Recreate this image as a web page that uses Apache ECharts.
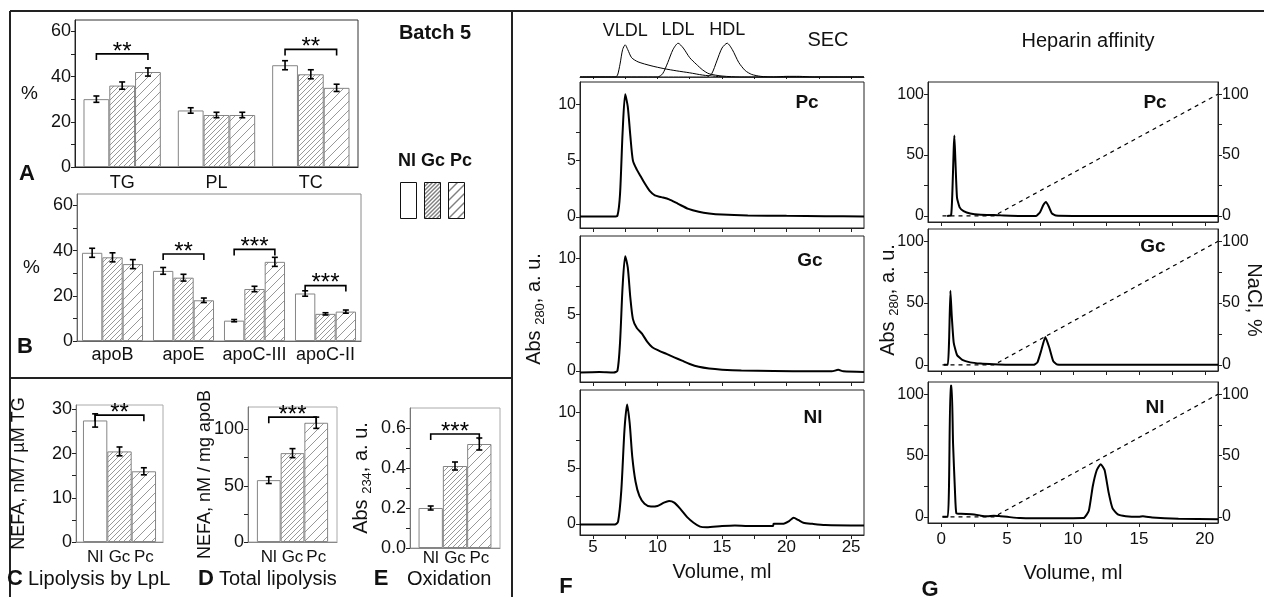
<!DOCTYPE html>
<html>
<head>
<meta charset="utf-8">
<title>Batch 5</title>
<script src="https://cdn.jsdelivr.net/npm/echarts@6/dist/echarts.min.js"></script>
<style>
html, body { margin: 0; padding: 0; background: #fff; }
#chart { width: 1264px; height: 597px; }
</style>
</head>
<body>
<div id="chart"></div>
<script>
// ---------- data ----------
const groups = ['Nl', 'Gc', 'Pc'];

// A: lipids, %
const catsA = ['TG', 'PL', 'TC'];
const nlA = [30, 25, 45];
const gcA = [36, 23, 41];
const pcA = [42, 23, 35];
const nlAErr = [1.4, 1.2, 2];
const gcAErr = [1.6, 1.2, 2];
const pcAErr = [1.8, 1.2, 1.6];
const sigA = [[0, 0, 2, 50, '**'], [2, 0, 2, 52, '**']];

// B: apolipoproteins, %
const catsB = ['apoB', 'apoE', 'apoC-III', 'apoC-II'];
const nlB = [39, 31, 9, 21];
const gcB = [37, 28, 23, 12];
const pcB = [34, 18, 35, 13];
const nlBErr = [2, 1.5, 0.5, 1.2];
const gcBErr = [2, 1.5, 1.2, 0.5];
const pcBErr = [2, 1, 2, 0.7];
const sigB = [[1, 0, 2, 38.5, '**'], [2, 0, 2, 40.5, '***'], [3, 0, 2, 24.5, '***']];

// C: lipolysis by LpL
const nlC = [27.5], gcC = [20.5], pcC = [16];
const nlCErr = [1.5], gcCErr = [1], pcCErr = [0.8];
const sigC = [[0, 0, 2, 28.7, '**']];

// D: total lipolysis
const nlD = [55], gcD = [79], pcD = [106];
const nlDErr = [3], gcDErr = [4], pcDErr = [5];
const sigD = [[0, 0, 2, 111, '***']];

// E: oxidation
const nlE = [0.20], gcE = [0.41], pcE = [0.52];
const nlEErr = [0.01], gcEErr = [0.02], pcEErr = [0.03];
const sigE = [[0, 0, 2, 0.57, '***']];

// tick labels
const ticksA = [0, 20, 40, 60];
const minorA = [0, 10, 20, 30, 40, 50, 60];
const ticksC = [0, 10, 20, 30];
const ticksD = [0, 50, 100];
const ticksE = [0, 0.2, 0.4, 0.6];
const ticksF = [0, 5, 10];
const minorF = [0, 2.5, 5, 7.5, 10];
const volTicksF = [5, 10, 15, 20, 25];
const volMinorF = [5, 7.5, 10, 12.5, 15, 17.5, 20, 22.5, 25];
const ticksG = [0, 50, 100];
const minorG = [0, 25, 50, 75, 100];
const volTicksG = [0, 5, 10, 15, 20];
const volMinorG = [0, 2.5, 5, 7.5, 10, 12.5, 15, 17.5, 20];

// F: SEC standards (inset), [ml, rel]
const stdVLDL = [[4, 0], [6.7, 0], [6.9, 0.05], [7.1, 0.4], [7.3, 0.85], [7.5, 1.0], [7.7, 0.85], [8.0, 0.6], [8.5, 0.47], [9.5, 0.35], [10.5, 0.26], [11.5, 0.19], [12.5, 0.13], [13.5, 0.06], [14.5, 0.02], [15.5, 0], [26, 0]];
const stdLDL = [[4, 0], [10.0, 0], [10.4, 0.1], [10.8, 0.45], [11.2, 0.85], [11.6, 1.05], [12.0, 0.9], [12.5, 0.6], [13.0, 0.4], [13.5, 0.22], [14.0, 0.1], [15.0, 0.03], [16.5, 0], [26, 0]];
const stdHDL = [[4, 0], [13.8, 0], [14.2, 0.1], [14.6, 0.5], [15.0, 0.9], [15.4, 1.05], [15.8, 0.85], [16.3, 0.45], [16.8, 0.2], [17.3, 0.08], [18, 0.02], [19, 0], [20, 0.02], [21, 0.02], [22, 0], [26, 0]];

// F: SEC traces, [ml, Abs280]
const secPc = [[4, 0.02], [6.6, 0.02], [6.9, 0.1], [7.1, 2], [7.3, 7.5], [7.5, 10.9], [7.7, 9.8], [7.9, 7.2], [8.1, 5.0], [8.4, 4.2], [8.7, 3.6], [9.0, 3.0], [9.4, 2.3], [9.8, 1.9], [10.3, 1.75], [10.9, 1.55], [11.6, 1.15], [12.4, 0.7], [13.2, 0.45], [14, 0.3], [15, 0.2], [17, 0.12], [20, 0.08], [23, 0.05], [26, 0.02]];
const secGc = [[4, -0.15], [5.5, -0.1], [6.6, -0.15], [6.9, 0], [7.1, 2.5], [7.3, 7.5], [7.5, 10.2], [7.7, 9.2], [7.9, 6.5], [8.1, 4.6], [8.4, 3.8], [8.8, 3.3], [9.2, 2.6], [9.6, 2.1], [10.1, 1.8], [10.7, 1.5], [11.3, 1.2], [11.9, 0.9], [12.5, 0.6], [13.2, 0.35], [14, 0.2], [15, 0.1], [16.5, 0.02], [19, -0.02], [22, -0.05], [23.5, -0.05], [24, 0.08], [24.4, -0.05], [26, -0.1]];
const secNl = [[4, -0.05], [6.7, -0.05], [6.95, 0.2], [7.2, 3], [7.45, 8.5], [7.65, 10.7], [7.85, 9], [8.05, 6], [8.3, 3.8], [8.6, 2.5], [9.0, 1.8], [9.5, 1.55], [10.0, 1.6], [10.5, 1.9], [10.9, 2.05], [11.3, 1.9], [11.8, 1.3], [12.3, 0.6], [12.8, 0.1], [13.3, -0.25], [13.8, -0.3], [15, -0.2], [16, -0.15], [17, -0.2], [18, -0.2], [18.95, -0.2], [19.0, 0], [19.7, 0], [20.2, 0.25], [20.55, 0.55], [20.9, 0.35], [21.3, 0.1], [22, 0], [23, -0.1], [26, -0.15]];

// G: heparin affinity traces, [ml, Abs280]
const hepPc = [[0.45, 0], [0.75, 0.5], [0.85, 20], [0.95, 55], [1.0, 66], [1.08, 45], [1.2, 15], [1.4, 7], [1.7, 4], [2.2, 2], [3, 1], [4, 0.7], [4.5, 0.5], [6, 0], [7.2, 0], [7.5, 3], [7.75, 9], [7.95, 11.5], [8.15, 8], [8.4, 2], [8.7, 0.3], [10, 0], [21, 0]];
const hepGc = [[0.2, 0], [0.5, 0], [0.6, 20], [0.7, 60], [0.8, 40], [0.95, 18], [1.2, 8], [1.6, 4], [2.2, 2], [3, 1], [4, 0.4], [5, 0], [7.0, 0], [7.3, 2], [7.6, 12], [7.9, 22.5], [8.2, 14], [8.5, 3], [8.8, 0.3], [10, 0], [21, 0]];
const hepNl = [[0.1, 0], [0.5, 0], [0.6, 30], [0.7, 107], [0.8, 107], [0.9, 60], [1.05, 20], [1.15, 3], [1.5, 2.5], [2.5, 2], [3, 1], [3.5, 0.5], [4, 1], [4.5, 0.5], [5, 0], [6, -1], [7, -1.2], [10.8, -1], [11.2, 5], [11.5, 25], [11.8, 38], [12.1, 43], [12.4, 38], [12.7, 20], [13.0, 7], [13.4, 2], [14, 0.5], [15, 0], [15.3, 0.5], [16, -0.5], [18, -1.5], [21, -2]];
// NaCl gradient, %
const nacl = [[0.1, 0], [4, 0], [21, 100]];

// ---------- styles ----------
const ff = 'Liberation Sans, Arial, sans-serif';
const ink = '#111';

function hatch(step, color, width) {
  const c = document.createElement('canvas');
  c.width = step;
  c.height = step;
  const ctx = c.getContext('2d');
  ctx.fillStyle = '#fff';
  ctx.fillRect(0, 0, step, step);
  ctx.strokeStyle = color;
  ctx.lineWidth = width;
  ctx.beginPath();
  ctx.moveTo(-1, step + 1); ctx.lineTo(step + 1, -1);
  ctx.moveTo(-1, 1); ctx.lineTo(1, -1);
  ctx.moveTo(step - 1, step + 1); ctx.lineTo(step + 1, step - 1);
  ctx.stroke();
  return { image: c, repeat: 'repeat' };
}
const fills = ['#ffffff', hatch(5, '#8c8c8c', 0.9), hatch(9, '#8c8c8c', 0.9)];
const legendFills = ['#ffffff', hatch(4, '#000', 1), hatch(9, '#000', 1)];

const grids = [
  { left: 75, top: 20, width: 283, height: 147, borderColor: '#333' },   // A
  { left: 77, top: 194, width: 284, height: 147, borderColor: '#8a8a8a' }, // B
  { left: 76, top: 405, width: 87, height: 137, borderColor: '#aaa' },   // C
  { left: 248, top: 407, width: 89, height: 135, borderColor: '#aaa' },  // D
  { left: 410, top: 408, width: 90, height: 140, borderColor: '#aaa' },  // E
  { left: 580, top: 40, width: 284, height: 37, show: false },           // F standards
  { left: 580, top: 82, width: 284, height: 146, borderColor: '#222' },  // F Pc
  { left: 580, top: 236, width: 284, height: 146, borderColor: '#222' }, // F Gc
  { left: 580, top: 390, width: 284, height: 145, borderColor: '#222' }, // F Nl
  { left: 928, top: 82, width: 290, height: 140, borderColor: '#222' },  // G Pc
  { left: 928, top: 229, width: 290, height: 142, borderColor: '#222' }, // G Gc
  { left: 928, top: 382, width: 290, height: 141, borderColor: '#222' }  // G Nl
].map(g => Object.assign({ show: g.show !== false, borderWidth: 1, containLabel: false, outerBoundsMode: 'none' }, g));

function valueAxis(grid, min, max, labels, ticks, o) {
  o = o || {};
  return {
    type: 'value', gridIndex: grid, min: min, max: max,
    position: o.position,
    show: o.show !== false,
    name: o.name, nameLocation: 'middle', nameGap: o.nameGap, nameRotate: o.nameRotate,
    nameMoveOverlap: false,
    nameTextStyle: Object.assign({ color: ink, fontSize: 20, fontFamily: ff }, o.nameTextStyle || {}),
    axisLine: { show: true, onZero: false, lineStyle: { color: o.lineColor || '#222', width: 1 } },
    axisTick: { show: true, customValues: ticks, length: o.tickLen || 4, inside: !!o.tickInside, lineStyle: { color: '#222' } },
    axisLabel: { show: o.labels !== false, customValues: labels, color: ink, fontSize: o.fontSize || 16, fontFamily: ff, margin: o.margin || 4, formatter: o.formatter },
    splitLine: { show: false }
  };
}

function catAxis(grid, cats, o) {
  o = o || {};
  return {
    type: 'category', gridIndex: grid, data: cats,
    axisLine: { show: true, lineStyle: { color: o.lineColor || '#222' } },
    axisTick: { show: o.ticks !== false, inside: true, alignWithLabel: true, length: 3, lineStyle: { color: '#555' } },
    axisLabel: { show: o.labels !== false, interval: 0, color: ink, fontSize: 18, fontFamily: ff, margin: o.margin || 6 },
    splitLine: { show: false }
  };
}

const rich = { a: { fontSize: 20, fontFamily: ff, color: ink, lineHeight: 20, verticalAlign: 'top' },
               s: { fontSize: 13, fontFamily: ff, color: ink, lineHeight: 13, padding: [10, 0, 0, 0], verticalAlign: 'top' } };

const xAxes = [
  catAxis(0, catsA, { margin: 7 }),
  catAxis(1, catsB, { margin: 5, lineColor: '#666' }),
  catAxis(2, ['C'], { labels: false, ticks: false, lineColor: '#888' }),
  catAxis(3, ['D'], { labels: false, ticks: false, lineColor: '#888' }),
  catAxis(4, ['E'], { labels: false, ticks: false, lineColor: '#888' }),
  valueAxis(5, 4, 26, [], volMinorF, { labels: false, tickLen: 2, lineColor: '#444' }),
  valueAxis(6, 4, 26, [], volMinorF, { labels: false }),
  valueAxis(7, 4, 26, [], volMinorF, { labels: false }),
  valueAxis(8, 4, 26, volTicksF, volMinorF, { name: 'Volume, ml', nameGap: 27, fontSize: 17 }),
  valueAxis(9, -1, 21, [], volMinorG, { labels: false }),
  valueAxis(10, -1, 21, [], volMinorG, { labels: false }),
  valueAxis(11, -1, 21, volTicksG, volMinorG, { name: 'Volume, ml', nameGap: 40, margin: 8, fontSize: 17 })
];

const yAxes = [
  valueAxis(0, 0, 65, ticksA, minorA, { fontSize: 18, name: '%', nameRotate: 0, nameGap: 37, nameTextStyle: { fontSize: 19 } }),
  valueAxis(1, 0, 65, ticksA, minorA, { fontSize: 18, lineColor: '#666', name: '%', nameRotate: 0, nameGap: 37, nameTextStyle: { fontSize: 19 } }),
  valueAxis(2, 0, 31, ticksC, [0, 5, 10, 15, 20, 25, 30], { fontSize: 18, lineColor: '#777', name: 'NEFA, nM / µM TG', nameGap: 48, nameTextStyle: { fontSize: 18 } }),
  valueAxis(3, 0, 120, ticksD, [0, 25, 50, 75, 100], { fontSize: 18, lineColor: '#777', name: 'NEFA, nM / mg apoB', nameGap: 34, nameTextStyle: { fontSize: 18 } }),
  valueAxis(4, 0, 0.7, ticksE, [0, 0.1, 0.2, 0.3, 0.4, 0.5, 0.6], { fontSize: 18, lineColor: '#777', formatter: v => v.toFixed(1),
    name: '{a|Abs }{s|234}{a|, a. u.}', nameGap: 39, nameTextStyle: { rich: rich } }),
  valueAxis(5, 0, 1.15, [], [], { show: false }),
  valueAxis(6, -1, 12, ticksF, minorF),
  valueAxis(7, -1, 12, ticksF, minorF, { name: '{a|Abs }{s|280}{a|, a. u.}', nameGap: 36, nameTextStyle: { rich: rich } }),
  valueAxis(8, -1, 12, ticksF, minorF),
  valueAxis(9, -5, 110, ticksG, minorG),
  valueAxis(10, -5, 110, ticksG, minorG, { name: '{a|Abs }{s|280}{a|, a. u.}', nameGap: 30, nameTextStyle: { rich: rich } }),
  valueAxis(11, -5, 110, ticksG, minorG),
  valueAxis(9, -5, 110, ticksG, minorG, { position: 'right' }),
  valueAxis(10, -5, 110, ticksG, minorG, { position: 'right', name: 'NaCl, %', nameRotate: -90, nameGap: 26 }),
  valueAxis(11, -5, 110, ticksG, minorG, { position: 'right' })
];

// ---------- bar panels ----------
const barPanels = [
  { idx: 0, values: [nlA, gcA, pcA], errs: [nlAErr, gcAErr, pcAErr], sig: sigA, gap: 0.18 },
  { idx: 1, values: [nlB, gcB, pcB], errs: [nlBErr, gcBErr, pcBErr], sig: sigB, gap: 0.14 },
  { idx: 2, values: [nlC, gcC, pcC], errs: [nlCErr, gcCErr, pcCErr], sig: sigC, gap: 0.16, names: 7 },
  { idx: 3, values: [nlD, gcD, pcD], errs: [nlDErr, gcDErr, pcDErr], sig: sigD, gap: 0.20, names: 7 },
  { idx: 4, values: [nlE, gcE, pcE], errs: [nlEErr, gcEErr, pcEErr], sig: sigE, gap: 0.19, names: 2 }
];

const series = [];

barPanels.forEach(p => {
  groups.forEach((g, k) => {
    series.push({
      type: 'bar', name: g, xAxisIndex: p.idx, yAxisIndex: p.idx,
      data: p.values[k], barGap: '0%', barCategoryGap: (p.gap * 100) + '%',
      itemStyle: { color: fills[k], borderColor: '#858585', borderWidth: 1 },
      label: p.names != null ? { show: true, position: 'bottom', distance: p.names, formatter: '{a}', color: ink, fontSize: 17, fontFamily: ff } : { show: false },
      silent: true
    });
    // error bars
    series.push({
      type: 'custom', xAxisIndex: p.idx, yAxisIndex: p.idx, z: 5, silent: true,
      data: p.values[k].map((v, i) => [i, v, p.errs[k][i]]),
      renderItem: function (params, api) {
        const band = api.size([1, 0])[0];
        const bw = band * (1 - p.gap) / 3;
        const c = api.value(0);
        const x = api.coord([c, 0])[0] + (k - 1) * bw;
        const hi = api.coord([c, api.value(1) + api.value(2)])[1];
        const lo = api.coord([c, api.value(1) - api.value(2)])[1];
        const st = { stroke: '#000', lineWidth: 1.6 };
        return { type: 'group', children: [
          { type: 'line', shape: { x1: x, y1: hi, x2: x, y2: lo }, style: st },
          { type: 'line', shape: { x1: x - 3, y1: hi, x2: x + 3, y2: hi }, style: st },
          { type: 'line', shape: { x1: x - 3, y1: lo, x2: x + 3, y2: lo }, style: st }
        ] };
      }
    });
  });
  // significance brackets
  series.push({
    type: 'custom', xAxisIndex: p.idx, yAxisIndex: p.idx, z: 6, silent: true,
    data: p.sig.map(s => s.slice(0, 4)),
    renderItem: function (params, api) {
      const band = api.size([1, 0])[0];
      const bw = band * (1 - p.gap) / 3;
      const c = api.coord([api.value(0), api.value(3)]);
      const x1 = c[0] + (api.value(1) - 1) * bw;
      const x2 = c[0] + (api.value(2) - 1) * bw;
      const y = c[1];
      return { type: 'group', children: [
        { type: 'polyline', shape: { points: [[x1, y + 6], [x1, y], [x2, y], [x2, y + 6]] }, style: { stroke: '#000', fill: null, lineWidth: 1.6 } },
        { type: 'text', x: (x1 + x2) / 2, y: y - 2, style: { text: p.sig[params.dataIndex][4], fill: '#000', fontSize: 24, fontFamily: ff, align: 'center', verticalAlign: 'middle' } }
      ] };
    }
  });
});

// ---------- line panels ----------
function curve(idx, data, o) {
  o = o || {};
  return {
    type: 'line', xAxisIndex: o.x != null ? o.x : idx, yAxisIndex: idx, data: data,
    showSymbol: false, symbol: 'none', smooth: o.smooth != null ? o.smooth : 0.25, silent: true,
    lineStyle: { color: '#000', width: o.width || 2, type: o.dash || 'solid' },
    markPoint: o.peak ? {
      symbol: 'circle', symbolSize: 1, itemStyle: { color: 'rgba(0,0,0,0)' },
      label: { show: true, position: 'top', distance: 4, formatter: o.peak, color: ink, fontSize: 18, fontFamily: ff },
      data: [{ type: 'max' }]
    } : undefined
  };
}

series.push(curve(5, stdVLDL, { width: 1, peak: 'VLDL' }));
series.push(curve(5, stdLDL, { width: 1, peak: 'LDL' }));
series.push(curve(5, stdHDL, { width: 1, peak: 'HDL' }));
series.push(curve(6, secPc));
series.push(curve(7, secGc));
series.push(curve(8, secNl));
series.push(curve(9, hepPc, { smooth: 0.15 }));
series.push(curve(10, hepGc, { smooth: 0.15 }));
series.push(curve(11, hepNl, { smooth: 0.15 }));
series.push(curve(12, nacl, { x: 9, width: 1.2, dash: [4, 4], smooth: false }));
series.push(curve(13, nacl, { x: 10, width: 1.2, dash: [4, 4], smooth: false }));
series.push(curve(14, nacl, { x: 11, width: 1.2, dash: [4, 4], smooth: false }));

// ---------- annotations ----------
function txt(x, y, s, size, bold, align) {
  return { type: 'text', x: x, y: y, silent: true,
    style: { text: s, fill: ink, fontSize: size, fontWeight: bold ? 'bold' : 'normal', fontFamily: ff, align: align || 'center', verticalAlign: 'middle' } };
}
function rule(x1, y1, x2, y2) {
  return { type: 'line', silent: true, shape: { x1: x1, y1: y1, x2: x2, y2: y2 }, style: { stroke: '#222', lineWidth: 2 } };
}

const graphics = [
  rule(10, 11, 1264, 11), rule(10, 11, 10, 597), rule(512, 11, 512, 597), rule(10, 378, 512, 378),
  txt(27, 174, 'A', 22, true), txt(25, 347, 'B', 22, true),
  txt(435, 33, 'Batch 5', 20, true), txt(435, 161, 'Nl Gc Pc', 18, true),
  txt(15, 579, 'C', 22, true), txt(28, 579, 'Lipolysis by LpL', 20, false, 'left'),
  txt(206, 579, 'D', 22, true), txt(219, 579, 'Total lipolysis', 20, false, 'left'),
  txt(381, 579, 'E', 22, true), txt(407, 579, 'Oxidation', 20, false, 'left'),
  txt(828, 40, 'SEC', 20), txt(1088, 41, 'Heparin affinity', 20),
  txt(807, 103, 'Pc', 19, true), txt(810, 261, 'Gc', 19, true), txt(813, 418, 'Nl', 19, true),
  txt(1155, 103, 'Pc', 19, true), txt(1153, 247, 'Gc', 19, true), txt(1155, 408, 'Nl', 19, true),
  txt(566, 587, 'F', 22, true), txt(930, 590, 'G', 22, true)
];

const chart = echarts.init(document.getElementById('chart'), null, { renderer: 'canvas' });
chart.setOption({
  animation: false,
  backgroundColor: '#fff',
  textStyle: { fontFamily: ff },
  legend: {
    left: 395, top: 177, orient: 'horizontal', icon: 'rect',
    itemWidth: 16, itemHeight: 36, itemGap: 7, selectedMode: false,
    formatter: () => '', textStyle: { fontSize: 1 },
    itemStyle: { borderColor: '#111', borderWidth: 1 },
    data: groups.map((g, k) => ({ name: g, itemStyle: { color: legendFills[k], borderColor: '#111', borderWidth: 1 } }))
  },
  grid: grids,
  xAxis: xAxes,
  yAxis: yAxes,
  series: series,
  graphic: graphics
});
</script>
</body>
</html>
